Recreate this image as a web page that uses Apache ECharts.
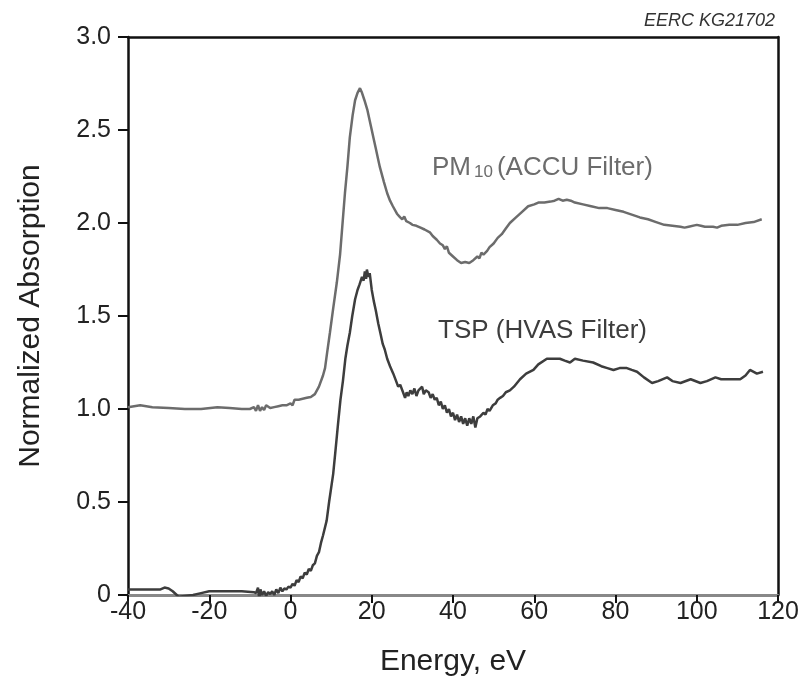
<!DOCTYPE html>
<html>
<head>
<meta charset="utf-8">
<script src="https://cdn.jsdelivr.net/npm/echarts@6/dist/echarts.min.js"></script>
<style>
  html, body { margin: 0; padding: 0; background: #fff; }
  #main { width: 805px; height: 683px; }
</style>
</head>
<body>
<div id="main"></div>
<script>
// PM10 (ACCU filter) - energy (eV) / normalized absorption
var pmEnergy = [-40, -37, -34, -30, -26, -22, -18, -15, -12, -10, -9, -8.5, -8, -7.5, -7, -6.5, -6, -5, -4, -3, -2, -1, 0, 0.5, 1, 2, 3, 4, 5, 6, 7, 8, 8.5, 9, 9.7, 10.5, 11.4, 12.2, 13, 13.4, 14, 14.6, 15.3, 15.9, 16.5, 17.1, 17.6, 18.2, 18.9, 19.5, 20, 20.4, 21, 21.5, 22, 22.5, 23, 23.8, 24.5, 25.2, 26.2, 27, 27.5, 28, 28.5, 29.4, 30, 31, 32, 33, 34.3, 35, 36, 36.8, 37.5, 38, 38.5, 39, 40, 41, 42, 43, 44, 45, 46, 46.5, 47, 47.5, 48.4, 49, 50, 51, 52, 53, 54, 55.5, 57, 58.5, 60, 61, 62.5, 64, 65, 66, 67, 68, 69, 70, 72, 74, 76, 78, 80, 82, 84, 86, 88, 90, 92, 94, 96, 97, 98, 100, 101, 102, 104, 105, 106, 108, 110, 112, 114, 116];
var pmAbs = [1.01, 1.02, 1.01, 1.005, 1.00, 1.00, 1.01, 1.005, 1.00, 1.00, 1.01, 0.99, 1.02, 0.99, 1.01, 0.995, 1.02, 1.005, 1.01, 1.015, 1.02, 1.02, 1.03, 1.02, 1.05, 1.05, 1.055, 1.06, 1.065, 1.08, 1.12, 1.18, 1.22, 1.30, 1.41, 1.54, 1.68, 1.83, 2.05, 2.16, 2.30, 2.46, 2.58, 2.66, 2.70, 2.725, 2.70, 2.66, 2.61, 2.55, 2.50, 2.46, 2.40, 2.35, 2.30, 2.26, 2.22, 2.16, 2.12, 2.09, 2.05, 2.03, 2.02, 2.035, 2.01, 2.00, 1.99, 1.985, 1.975, 1.965, 1.95, 1.93, 1.91, 1.89, 1.88, 1.86, 1.875, 1.84, 1.82, 1.80, 1.785, 1.79, 1.785, 1.80, 1.82, 1.81, 1.84, 1.83, 1.85, 1.87, 1.89, 1.92, 1.94, 1.97, 2.00, 2.03, 2.06, 2.09, 2.10, 2.11, 2.11, 2.115, 2.12, 2.13, 2.12, 2.125, 2.12, 2.11, 2.10, 2.09, 2.08, 2.08, 2.07, 2.06, 2.045, 2.03, 2.02, 2.005, 1.99, 1.985, 1.98, 1.975, 1.98, 1.99, 1.985, 1.98, 1.98, 1.975, 1.985, 1.99, 1.99, 2.00, 2.005, 2.02];

// TSP (HVAS filter)
var tspEnergy = [-40, -35, -32, -31, -30, -29, -28, -27.5, -26, -24, -22, -20, -16, -12, -9, -8.5, -8, -7.7, -7.4, -7, -6.5, -6, -5.5, -5, -4.5, -4, -3.5, -3, -2.5, -2, -1.5, -1, -0.5, 0, 0.5, 1, 1.5, 2, 2.5, 3, 3.5, 4, 4.5, 5, 5.5, 6, 6.5, 7, 7.5, 8, 8.9, 9.5, 10.5, 11, 11.7, 12.3, 12.9, 13.5, 14, 14.6, 15.2, 15.9, 16.5, 17, 17.6, 18, 18.3, 18.6, 18.8, 19.2, 19.5, 20, 20.5, 21, 21.6, 22.2, 22.7, 23.2, 23.8, 24.5, 25.3, 26, 26.5, 27, 27.7, 28.2, 28.6, 29, 29.5, 30, 30.5, 31, 31.5, 31.9, 32.4, 32.8, 33.3, 34, 34.5, 35, 35.5, 36, 36.5, 37, 37.5, 38, 38.5, 39, 39.5, 40, 40.5, 41, 41.5, 42, 42.5, 43, 43.5, 44, 44.5, 45, 45.5, 46, 46.7, 47.5, 48, 48.5, 49, 49.8, 50.5, 51, 51.6, 52.3, 53, 54, 55, 56.5, 58, 59.8, 61, 63.1, 64.5, 66.3, 67.5, 68.8, 70, 72, 74.5, 76.5, 78, 79.5, 81, 82.8, 84, 85.3, 87, 89, 90.5, 92.7, 94, 96, 98.5, 100.9, 102.5, 104.6, 106, 107.5, 110.7, 112, 113.1, 114.8, 116.3];
var tspAbs = [0.03, 0.03, 0.03, 0.04, 0.035, 0.02, 0.0, -0.01, -0.005, 0.0, 0.01, 0.02, 0.02, 0.02, 0.015, 0.01, 0.04, -0.02, 0.03, 0.0, 0.02, -0.005, 0.015, 0.005, 0.02, 0.0, 0.03, 0.01, 0.04, 0.02, 0.035, 0.03, 0.045, 0.04, 0.06, 0.05, 0.08, 0.07, 0.10, 0.09, 0.12, 0.11, 0.14, 0.13, 0.16, 0.17, 0.21, 0.23, 0.28, 0.32, 0.40, 0.50, 0.65, 0.76, 0.92, 1.05, 1.15, 1.27, 1.34, 1.41, 1.50, 1.59, 1.64, 1.67, 1.71, 1.69, 1.74, 1.70, 1.75, 1.71, 1.73, 1.64, 1.58, 1.53, 1.46, 1.40, 1.35, 1.32, 1.27, 1.23, 1.19, 1.15, 1.12, 1.13, 1.09, 1.06, 1.09, 1.07, 1.10, 1.08, 1.11, 1.07, 1.10, 1.09, 1.12, 1.08, 1.10, 1.09, 1.06, 1.08, 1.05, 1.06, 1.02, 1.04, 1.00, 1.02, 0.98, 1.00, 0.96, 0.98, 0.94, 0.97, 0.93, 0.96, 0.92, 0.95, 0.91, 0.95, 0.92, 0.96, 0.90, 0.95, 0.96, 0.98, 0.97, 1.00, 0.99, 1.02, 1.03, 1.05, 1.06, 1.07, 1.09, 1.10, 1.12, 1.16, 1.19, 1.21, 1.24, 1.27, 1.27, 1.27, 1.26, 1.25, 1.27, 1.26, 1.25, 1.23, 1.22, 1.21, 1.22, 1.22, 1.21, 1.20, 1.17, 1.14, 1.15, 1.17, 1.15, 1.14, 1.16, 1.14, 1.15, 1.17, 1.16, 1.16, 1.16, 1.18, 1.21, 1.19, 1.20];

var xTicks = [-40, 120, 20];   // min, max, step
var yTicks = [0, 3, 0.5];

function zip(xs, ys) {
    var out = [];
    for (var i = 0; i < xs.length; i++) out.push([xs[i], ys[i]]);
    return out;
}

var chart = echarts.init(document.getElementById('main'));
var fontFam = 'Liberation Sans, Arial, Helvetica, sans-serif';

option = {
    backgroundColor: '#fff',
    animation: false,
    grid: { left: 128, right: 27, top: 37, bottom: 88, outerBoundsMode: 'none' },
    xAxis: [
        {
            type: 'value',
            min: xTicks[0], max: xTicks[1], interval: xTicks[2],
            name: 'Energy, eV',
            nameLocation: 'middle',
            nameGap: 52,
            nameTextStyle: { fontFamily: fontFam, fontSize: 30, color: '#222' },
            axisLine: { onZero: false, lineStyle: { color: '#888', width: 3 } },
            axisTick: { inside: false, length: 8, lineStyle: { color: '#111', width: 2 } },
            axisLabel: { fontFamily: fontFam, fontSize: 25, color: '#222', margin: 5 },
            splitLine: { show: false }
        },
        {
            type: 'value', position: 'top',
            min: xTicks[0], max: xTicks[1],
            axisLine: { show: true, onZero: false, lineStyle: { color: '#111', width: 2.5 } },
            axisTick: { show: false }, axisLabel: { show: false }, splitLine: { show: false }
        }
    ],
    yAxis: [
        {
            type: 'value',
            min: yTicks[0], max: yTicks[1], interval: yTicks[2],
            name: 'Normalized Absorption',
            nameLocation: 'middle',
            nameGap: 82,
            nameTextStyle: { fontFamily: fontFam, fontSize: 30, color: '#222' },
            axisLine: { show: true, onZero: false, lineStyle: { color: '#111', width: 2.5 } },
            axisTick: { show: true, length: 10, lineStyle: { color: '#111', width: 2 } },
            axisLabel: {
                fontFamily: fontFam, fontSize: 25, color: '#222', margin: 17,
                formatter: function (v) { return v === 0 ? '0' : v.toFixed(1); }
            },
            splitLine: { show: false }
        },
        {
            type: 'value', position: 'right',
            min: yTicks[0], max: yTicks[1],
            axisLine: { show: true, onZero: false, lineStyle: { color: '#111', width: 2.5 } },
            axisTick: { show: false }, axisLabel: { show: false }, splitLine: { show: false }
        }
    ],
    series: [
        {
            name: 'PM10 (ACCU Filter)',
            type: 'line',
            data: zip(pmEnergy, pmAbs),
            showSymbol: false,
            lineStyle: { color: '#6c6c6c', width: 2.5 },
            z: 3
        },
        {
            name: 'TSP (HVAS Filter)',
            type: 'line',
            data: zip(tspEnergy, tspAbs),
            showSymbol: false,
            lineStyle: { color: '#3d3d3d', width: 2.5 },
            z: 4
        }
    ],
    graphic: [
        {
            type: 'text', left: 432, top: 155,
            style: {
                text: '{m|PM}{s|10}{m|(ACCU Filter)}',
                rich: {
                    m: { fontFamily: fontFam, fontSize: 26, fill: '#6c6c6c', verticalAlign: 'bottom' },
                    s: { fontFamily: fontFam, fontSize: 17, fill: '#6c6c6c', verticalAlign: 'bottom', padding: [0, 4, 0, 3] }
                }
            }
        },
        {
            type: 'text', left: 438, top: 318,
            style: { text: 'TSP (HVAS Filter)', fontFamily: fontFam, fontSize: 26, fill: '#3d3d3d' }
        },
        {
            type: 'text', right: 30, top: 12,
            style: { text: 'EERC KG21702', fontFamily: fontFam, fontSize: 18, fontStyle: 'italic', fill: '#333' }
        }
    ]
};
chart.setOption(option);
</script>
</body>
</html>
